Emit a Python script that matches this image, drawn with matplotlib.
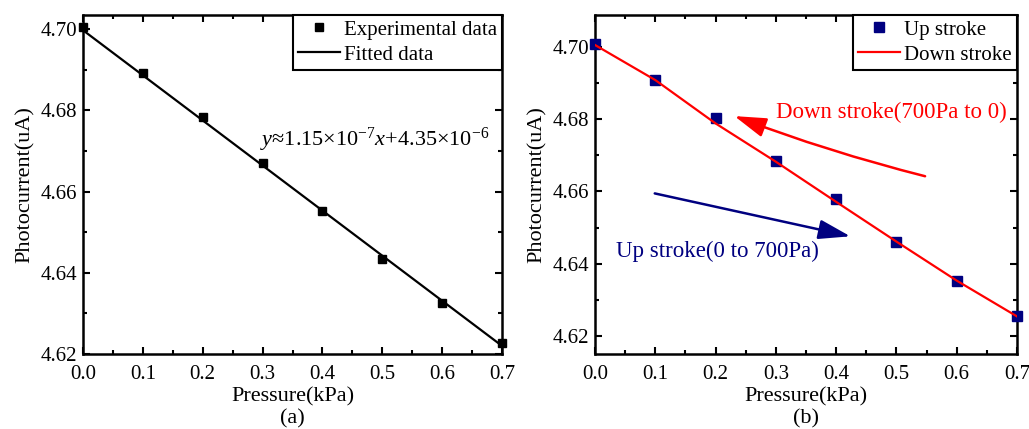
import numpy as np
import matplotlib
matplotlib.use("Agg")
import matplotlib.pyplot as plt
from matplotlib.patches import FancyArrowPatch
from matplotlib.ticker import MultipleLocator, FormatStrFormatter

plt.rcParams['font.family'] = ['Liberation Serif', 'DejaVu Serif']
plt.rcParams['mathtext.fontset'] = 'custom'
plt.rcParams['mathtext.rm'] = 'Liberation Serif'
plt.rcParams['mathtext.it'] = 'Liberation Serif:italic'

# ---------------- data ----------------
pressure = [0.0, 0.1, 0.2, 0.3, 0.4, 0.5, 0.6, 0.7]
exp_current = [4.7006, 4.6891, 4.6783, 4.6670, 4.6552, 4.6434, 4.6326, 4.6226]
fit_x = [0.0, 0.7]
fit_y = [4.6997, 4.6220]

up_current = [4.7009, 4.6908, 4.6802, 4.6684, 4.6578, 4.6461, 4.6353, 4.6254]
down_current = [4.7005, 4.6908, 4.6788, 4.6682, 4.6571, 4.6461, 4.6353, 4.6254]

xticks = [0.0, 0.1, 0.2, 0.3, 0.4, 0.5, 0.6, 0.7]
yticks = [4.62, 4.64, 4.66, 4.68, 4.70]

W, H = 1029, 429
fig = plt.figure(figsize=(W / 100, H / 100), dpi=100)

def px_axes(x0, x1, y0, y1):
    return fig.add_axes([x0 / W, 1 - y1 / H, (x1 - x0) / W, (y1 - y0) / H])

ax1 = px_axes(83, 502, 15, 354)
ax2 = px_axes(595, 1017, 15, 354)

TICK_FS = 15
LABEL_FS = 16
LEG_FS = 15

def style(ax, ylim):
    ax.set_xlim(0.0, 0.7)
    ax.set_ylim(*ylim)
    ax.set_xticks(xticks)
    ax.set_yticks(yticks)
    ax.xaxis.set_minor_locator(MultipleLocator(0.05))
    ax.yaxis.set_minor_locator(MultipleLocator(0.01))
    ax.xaxis.set_major_formatter(FormatStrFormatter('%.1f'))
    ax.yaxis.set_major_formatter(FormatStrFormatter('%.2f'))
    ax.tick_params(which='both', direction='in', top=True, right=True,
                   width=1.5, labelsize=TICK_FS)
    ax.tick_params(axis='x', which='both', pad=8)
    ax.tick_params(axis='y', which='both', pad=4)
    ax.tick_params(which='major', length=5)
    ax.tick_params(which='minor', length=3)
    for s in ax.spines.values():
        s.set_linewidth(1.8)
    ax.set_xlabel('Pressure(kPa)', fontsize=LABEL_FS, labelpad=2)
    ax.set_ylabel('Photocurrent(uA)', fontsize=LABEL_FS, labelpad=4)

def legend(ax):
    leg = ax.legend(loc='upper right', fontsize=LEG_FS, frameon=True, fancybox=False,
                    edgecolor='black', framealpha=1, borderaxespad=0, borderpad=0.25,
                    handlelength=2.0, handletextpad=0.2, labelspacing=0.25)
    leg.get_frame().set_linewidth(1.5)
    return leg

# ---------------- (a) ----------------
style(ax1, (4.62, 4.70345))
ax1.plot(pressure, exp_current, 's', color='black', ms=6, label='Experimental data',
         clip_on=False, zorder=3)
ax1.plot(fit_x, fit_y, '-', color='black', lw=1.6, label='Fitted data', zorder=2)
legend(ax1)
ax1.text(0.296, 4.6727, r'$\it{y}$≈1.15×10$^{-7}$$\it{x}$+4.35×10$^{-6}$',
         fontsize=16, ha='left', va='center')
ax1.text(0.5, -0.19, '(a)', transform=ax1.transAxes, fontsize=LABEL_FS,
         ha='center', va='center')

# ---------------- (b) ----------------
style(ax2, (4.6150, 4.7088))
ax2.plot(pressure, up_current, 's', color='#000080', ms=6.5, label='Up stroke',
         clip_on=False, zorder=3)
ax2.plot(pressure, down_current, '-', color='#ff0000', lw=1.6, label='Down stroke',
         zorder=4)
legend(ax2)

arr_red = FancyArrowPatch((0.552, 4.6640), (0.227, 4.6811),
                          arrowstyle='-|>,head_length=1.3,head_width=0.4',
                          connectionstyle='arc3,rad=-0.03', mutation_scale=15,
                          color='#ff0000', lw=1.8)
ax2.add_patch(arr_red)
arr_blue = FancyArrowPatch((0.0946, 4.6596), (0.428, 4.6474),
                           arrowstyle='-|>,head_length=1.3,head_width=0.4',
                           connectionstyle='arc3,rad=0.0', mutation_scale=15,
                           color='#000080', lw=1.8)
ax2.add_patch(arr_blue)
ax2.text(0.491, 4.6817, 'Down stroke(700Pa to 0)', color='#ff0000',
         fontsize=16.5, ha='center', va='center')
ax2.text(0.203, 4.6433, 'Up stroke(0 to 700Pa)', color='#000080',
         fontsize=16.5, ha='center', va='center')
ax2.text(0.5, -0.19, '(b)', transform=ax2.transAxes, fontsize=LABEL_FS,
         ha='center', va='center')

fig.savefig('out.png', dpi=100)
